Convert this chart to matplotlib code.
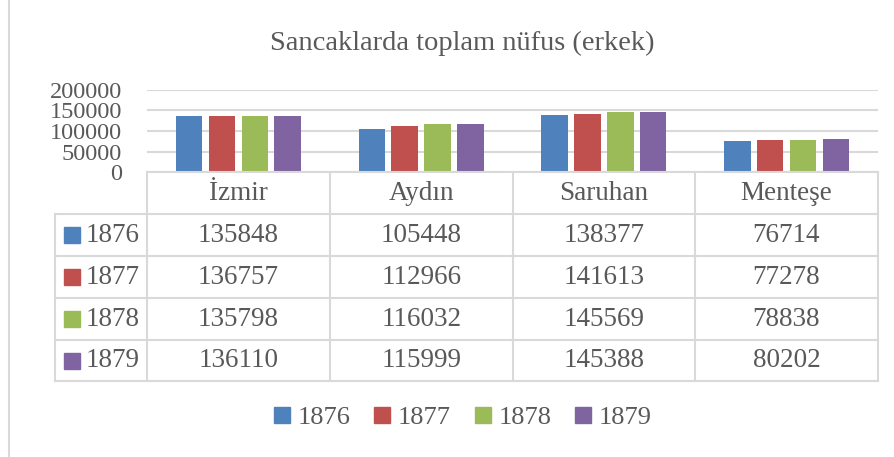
import matplotlib.pyplot as plt
from matplotlib.patches import Rectangle
from matplotlib.lines import Line2D

regions = ['İzmir', 'Aydın', 'Saruhan', 'Menteşe']
years = ['1876', '1877', '1878', '1879']
pop_1876 = [135848, 105448, 138377, 76714]
pop_1877 = [136757, 112966, 141613, 77278]
pop_1878 = [135798, 116032, 145569, 78838]
pop_1879 = [136110, 115999, 145388, 80202]
series = [pop_1876, pop_1877, pop_1878, pop_1879]
yticks = [0, 50000, 100000, 150000, 200000]

colors = ['#4F81BD', '#C0504D', '#9BBB59', '#8064A2']
txt = '#595959'
grid = '#D9D9D9'
W, H = 895, 457

plt.rcParams['font.family'] = ['Liberation Serif', 'DejaVu Serif']

fig = plt.figure(figsize=(W / 100, H / 100), dpi=100)


def fx(px):
    return px / W


def fy(py):
    return 1 - py / H


# outer chart border (left edge visible)
fig.add_artist(Line2D([fx(9.5), fx(9.5)], [0, 1], color=grid, lw=1.5))

# bar plot area
x0, x1 = 147, 878
top, base = 90, 172
ax = fig.add_axes([fx(x0), fy(base), fx(x1) - fx(x0), (base - top) / H])
n = len(regions)
for j, vals in enumerate(series):
    xs = [i + (j - 1.5) * 0.18 for i in range(n)]
    ax.bar(xs, vals, width=0.145, color=colors[j], zorder=3)
ax.set_xlim(-0.5, n - 0.5)
ax.set_ylim(0, 200000)
ax.set_yticks(yticks)
ax.set_yticklabels([str(t) for t in yticks], fontsize=17.5, color=txt)
ax.tick_params(axis='y', length=0, pad=18)
ax.tick_params(axis='x', bottom=False, labelbottom=False)
for s in ax.spines.values():
    s.set_visible(False)
ax.yaxis.grid(True, color=grid, lw=1.5, zorder=0)
ax.set_axisbelow(True)

# data table underneath
cols = [147, 330, 513, 695, 878]
tab_left = 55
row_lines = [172, 214, 256, 298, 340, 381]
lc = dict(color=grid, lw=1.5)

# header row
fig.add_artist(Line2D([fx(cols[0]), fx(cols[-1])], [fy(172), fy(172)], **lc))
for c in cols:
    fig.add_artist(Line2D([fx(c), fx(c)], [fy(172), fy(381)], **lc))
fig.add_artist(Line2D([fx(tab_left), fx(tab_left)], [fy(214), fy(381)], **lc))
for r in row_lines[1:]:
    fig.add_artist(Line2D([fx(tab_left), fx(cols[-1])], [fy(r), fy(r)], **lc))

for i, name in enumerate(regions):
    cx = (cols[i] + cols[i + 1]) / 2
    fig.text(fx(cx), fy(193), name, ha='center', va='center', fontsize=19.5, color=txt)

for j, yr in enumerate(years):
    cy = (row_lines[j + 1] + row_lines[j + 2]) / 2
    fig.add_artist(Rectangle((fx(64), fy(cy + 8)), 16 / W, 16 / H, color=colors[j]))
    fig.text(fx(86), fy(cy), yr, ha='left', va='center', fontsize=19.5, color=txt)
    for i in range(n):
        cx = (cols[i] + cols[i + 1]) / 2
        fig.text(fx(cx), fy(cy), str(series[j][i]), ha='center', va='center',
                 fontsize=19.5, color=txt)

# legend
handles = [Rectangle((0, 0), 1, 1, color=c) for c in colors]
fig.legend(handles, years, loc='center', bbox_to_anchor=(fx(463), fy(418)), ncol=4,
           frameon=False, fontsize=19, labelcolor=txt, handlelength=0.6,
           handleheight=0.6, handletextpad=0.3, columnspacing=0.9)

fig.text(fx(462), fy(43), 'Sancaklarda toplam nüfus (erkek)', ha='center', va='center',
         fontsize=20.5, color=txt)

fig.savefig('out.png', dpi=100)
